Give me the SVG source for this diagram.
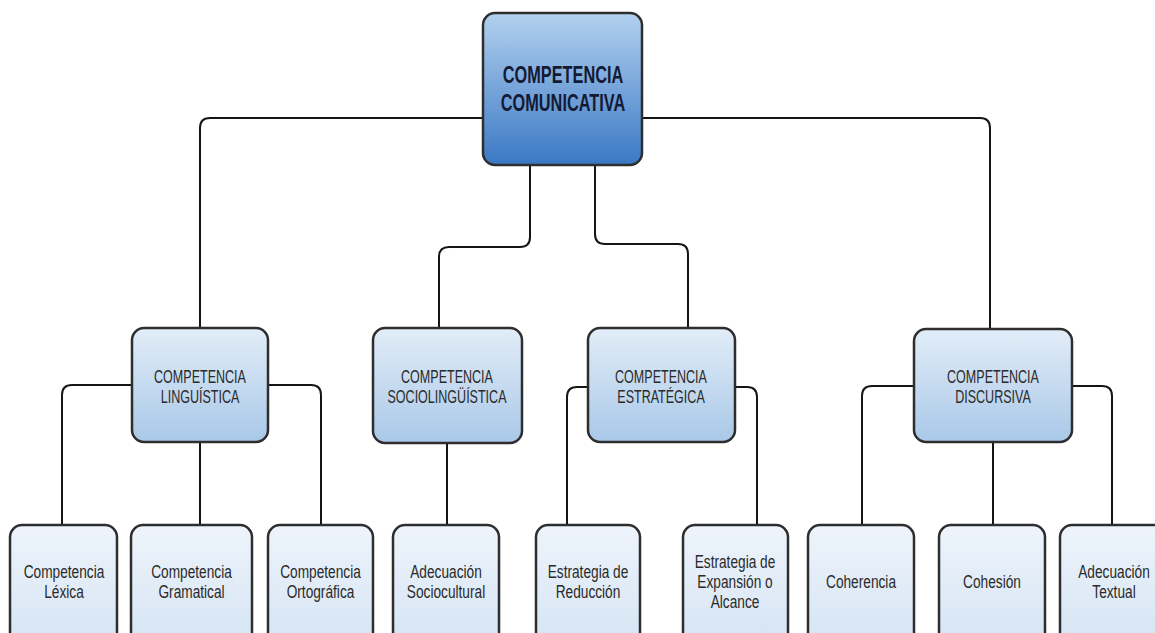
<svg xmlns="http://www.w3.org/2000/svg" width="1155" height="633" viewBox="0 0 1155 633">
<defs>
<linearGradient id="gTop" x1="0" y1="0" x2="0" y2="1">
<stop offset="0" stop-color="#b3d1ef"/>
<stop offset="1" stop-color="#3a78c4"/>
</linearGradient>
<linearGradient id="gMid" x1="0" y1="0" x2="0" y2="1">
<stop offset="0" stop-color="#e2edf8"/>
<stop offset="1" stop-color="#a9c8e8"/>
</linearGradient>
<linearGradient id="gLeaf" x1="0" y1="0" x2="0" y2="1">
<stop offset="0" stop-color="#eef4fb"/>
<stop offset="1" stop-color="#d3e3f3"/>
</linearGradient>
</defs>
<style>
.box{stroke:#2e2e2e;stroke-width:2.5}
.top{fill:url(#gTop)}
.mid{fill:url(#gMid)}
.leaf{fill:url(#gLeaf)}
.conn path{fill:none;stroke:#151515;stroke-width:2}
text{font-family:"Liberation Sans",Arial,sans-serif;text-anchor:middle}
.t0{font-size:24px;font-weight:bold;fill:#141a33}
.t1{font-size:19px;fill:#2a2a2a}
.t2{font-size:18.5px;fill:#2a2a2a}
</style>
<rect width="1155" height="633" fill="#ffffff"/>
<g class="conn">
<path d="M483,118 H210 Q200,118 200,128 V328"/>
<path d="M642,118 H980 Q990,118 990,128 V329"/>
<path d="M530,165 V237 Q530,247 520,247 H449 Q439,247 439,257 V328"/>
<path d="M595,165 V234 Q595,244 605,244 H678 Q688,244 688,254 V328"/>
<path d="M132,385 H72 Q62,385 62,395 V524"/>
<path d="M200,442 V524"/>
<path d="M268,385 H311 Q321,385 321,395 V524"/>
<path d="M447,443 V524"/>
<path d="M588,387 H577 Q567,387 567,397 V524"/>
<path d="M735,387 H747 Q757,387 757,397 V524"/>
<path d="M914,386 H872 Q862,386 862,396 V524"/>
<path d="M993,442 V524"/>
<path d="M1072,386 H1102 Q1112,386 1112,396 V524"/>
</g>
<g id="n-comunicativa">
<rect class="box top" x="483" y="13" width="159" height="152" rx="12"/>
<text class="t0" transform="translate(563,0) scale(0.68,1)"><tspan x="0" y="83">COMPETENCIA</tspan><tspan x="0" y="111">COMUNICATIVA</tspan></text>
</g>
<g id="n-linguistica">
<rect class="box mid" x="132" y="328" width="136" height="114" rx="12"/>
<text class="t1" transform="translate(200,0) scale(0.66,1)"><tspan x="0" y="383">COMPETENCIA</tspan><tspan x="0" y="403">LINGUÍSTICA</tspan></text>
</g>
<g id="n-sociolinguistica">
<rect class="box mid" x="373" y="328" width="149" height="115" rx="12"/>
<text class="t1" transform="translate(447,0) scale(0.66,1)"><tspan x="0" y="383">COMPETENCIA</tspan><tspan x="0" y="403">SOCIOLINGÜÍSTICA</tspan></text>
</g>
<g id="n-estrategica">
<rect class="box mid" x="588" y="328" width="147" height="114" rx="12"/>
<text class="t1" transform="translate(661,0) scale(0.66,1)"><tspan x="0" y="383">COMPETENCIA</tspan><tspan x="0" y="403">ESTRATÉGICA</tspan></text>
</g>
<g id="n-discursiva">
<rect class="box mid" x="914" y="329" width="158" height="113" rx="12"/>
<text class="t1" transform="translate(993,0) scale(0.66,1)"><tspan x="0" y="383">COMPETENCIA</tspan><tspan x="0" y="403">DISCURSIVA</tspan></text>
</g>
<g id="n-lexica">
<rect class="box leaf" x="10" y="525" width="107" height="130" rx="12"/>
<text class="t2" transform="translate(64,0) scale(0.74,1)"><tspan x="0" y="578">Competencia</tspan><tspan x="0" y="598">Léxica</tspan></text>
</g>
<g id="n-gramatical">
<rect class="box leaf" x="131" y="525" width="121" height="130" rx="12"/>
<text class="t2" transform="translate(191.5,0) scale(0.74,1)"><tspan x="0" y="578">Competencia</tspan><tspan x="0" y="598">Gramatical</tspan></text>
</g>
<g id="n-ortografica">
<rect class="box leaf" x="268" y="525" width="105" height="130" rx="12"/>
<text class="t2" transform="translate(320.5,0) scale(0.74,1)"><tspan x="0" y="578">Competencia</tspan><tspan x="0" y="598">Ortográfica</tspan></text>
</g>
<g id="n-sociocultural">
<rect class="box leaf" x="393" y="525" width="106" height="130" rx="12"/>
<text class="t2" transform="translate(446,0) scale(0.74,1)"><tspan x="0" y="578">Adecuación</tspan><tspan x="0" y="598">Sociocultural</tspan></text>
</g>
<g id="n-reduccion">
<rect class="box leaf" x="536" y="525" width="104" height="130" rx="12"/>
<text class="t2" transform="translate(588,0) scale(0.74,1)"><tspan x="0" y="578">Estrategia de</tspan><tspan x="0" y="598">Reducción</tspan></text>
</g>
<g id="n-expansion">
<rect class="box leaf" x="683" y="525" width="105" height="130" rx="12"/>
<text class="t2" transform="translate(735,0) scale(0.74,1)"><tspan x="0" y="568">Estrategia de</tspan><tspan x="0" y="588">Expansión o</tspan><tspan x="0" y="608">Alcance</tspan></text>
</g>
<g id="n-coherencia">
<rect class="box leaf" x="808" y="525" width="106" height="130" rx="12"/>
<text class="t2" transform="translate(861,0) scale(0.74,1)"><tspan x="0" y="588">Coherencia</tspan></text>
</g>
<g id="n-cohesion">
<rect class="box leaf" x="939" y="525" width="106" height="130" rx="12"/>
<text class="t2" transform="translate(992,0) scale(0.74,1)"><tspan x="0" y="588">Cohesión</tspan></text>
</g>
<g id="n-textual">
<rect class="box leaf" x="1060" y="525" width="108" height="130" rx="12"/>
<text class="t2" transform="translate(1114,0) scale(0.74,1)"><tspan x="0" y="578">Adecuación</tspan><tspan x="0" y="598">Textual</tspan></text>
</g>
</svg>
